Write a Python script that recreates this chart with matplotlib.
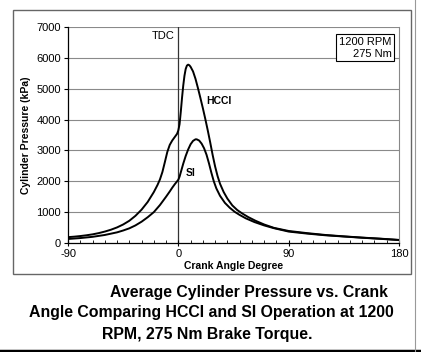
import matplotlib
matplotlib.use("Agg")
import matplotlib.pyplot as plt
from matplotlib.patches import Rectangle
from matplotlib.lines import Line2D

plt.rcParams['font.family'] = ['Liberation Sans', 'DejaVu Sans']
plt.rcParams['axes.unicode_minus'] = False

# Crank angle (deg) and pressure (kPa)
hcci_angle = [-90, -85, -80, -75, -70, -65, -60, -55, -50, -45, -40, -35, -30, -25, -20, -17, -15,
              -13, -11, -9, -7, -5, -3, -1, 0, 1, 2, 3, 4, 5, 6, 7, 8, 9, 10, 12, 14, 16, 18, 20,
              22, 24, 26, 28, 30, 32, 34, 37, 40, 44, 48, 52, 57, 63, 70, 78, 90, 105, 120, 135,
              150, 165, 180]
hcci_pres = [190, 205, 225, 250, 280, 320, 370, 430, 505, 600, 720, 880, 1080, 1330, 1650, 1880,
             2060, 2300, 2620, 2950, 3180, 3320, 3430, 3540, 3650, 3850, 4250, 4700, 5100, 5420,
             5640, 5750, 5780, 5760, 5710, 5560, 5320, 5020, 4700, 4370, 4020, 3650, 3260, 2850,
             2480, 2170, 1920, 1650, 1440, 1220, 1070, 960, 840, 720, 600, 490, 390, 320, 260,
             215, 175, 140, 100]

si_angle = [-90, -80, -70, -60, -50, -45, -40, -35, -30, -25, -20, -15, -10, -7, -5, -3, -1, 0, 1,
            2, 4, 6, 8, 10, 12, 14, 15, 17, 19, 21, 23, 25, 27, 29, 31, 34, 38, 42, 46, 50, 55,
            62, 70, 78, 90, 105, 120, 135, 150, 165, 180]
si_pres = [130, 160, 200, 260, 345, 405, 475, 570, 690, 835, 1000, 1230, 1500, 1670, 1790, 1900,
           2000, 2050, 2150, 2290, 2570, 2820, 3030, 3200, 3310, 3360, 3360, 3320, 3220, 3070,
           2860, 2580, 2270, 1990, 1770, 1530, 1300, 1140, 1010, 910, 800, 680, 570, 480, 370,
           305, 250, 210, 170, 135, 95]

x_ticks = [-90, 0, 90, 180]
y_ticks = [0, 1000, 2000, 3000, 4000, 5000, 6000, 7000]

fig = plt.figure(figsize=(4.21, 3.52), dpi=100)
fig.patch.set_facecolor('white')

# outer frame
fig.patches.append(Rectangle((13/421, 1-274/352), 398/421, 264/352, transform=fig.transFigure,
                             fill=False, edgecolor='#666666', linewidth=1.0))
fig.lines.append(Line2D([0, 1], [1.5/352, 1.5/352], transform=fig.transFigure, color='black', linewidth=2.5))
fig.lines.append(Line2D([415/421, 415/421], [0, 1], transform=fig.transFigure, color='#999999', linewidth=0.8))

ax = fig.add_axes([68/421, 1-243/352, 331/421, 216/352])
ax.set_xlim(-90, 180)
ax.set_ylim(0, 7000)

for yv in y_ticks[1:]:
    ax.axhline(yv, color='#8a8a8a', linewidth=0.8, zorder=1)
ax.axvline(0, color='#333333', linewidth=0.9, zorder=1)

ax.plot(hcci_angle, hcci_pres, color='black', linewidth=1.4, zorder=3, solid_joinstyle='round')
ax.plot(si_angle, si_pres, color='black', linewidth=1.4, zorder=3, solid_joinstyle='round')

ax.set_xticks(x_ticks)
ax.set_xticks(range(-90, 181, 10), minor=True)
ax.set_yticks(y_ticks)
ax.tick_params(axis='both', which='major', labelsize=8, length=3, width=0.8, direction='out', pad=2)
ax.tick_params(axis='x', which='minor', length=2.5, width=0.6, direction='in')
ax.tick_params(axis='x', which='major', direction='inout', length=4)

for s in ['left', 'bottom']:
    ax.spines[s].set_color('black')
    ax.spines[s].set_linewidth(0.9)
ax.spines['top'].set_visible(False)
ax.spines['right'].set_color('#888888')
ax.spines['right'].set_linestyle((0, (1, 1)))
ax.spines['right'].set_linewidth(0.8)

ax.set_xlabel('Crank Angle Degree', fontsize=7.5, fontweight='bold', labelpad=2)
ax.set_ylabel('Cylinder Pressure (kPa)', fontsize=7.5, fontweight='bold', labelpad=4)

ax.text(22.4, 4600, 'HCCI', fontsize=7.5, fontweight='bold', va='center', ha='left')
ax.text(6.1, 2270, 'SI', fontsize=7.5, fontweight='bold', va='center', ha='left')
ax.text(-2.9, 6700, 'TDC', fontsize=8, va='center', ha='right')
ax.text(174, 6330, '1200 RPM\n275 Nm', fontsize=8, va='center', ha='right', linespacing=1.25,
        bbox=dict(boxstyle='square,pad=0.25', facecolor='white', edgecolor='black', linewidth=0.8))

cap = dict(fontsize=11.4, fontweight='bold')
fig.text(110/421, 1-292/352, 'Average Cylinder Pressure vs. Crank', ha='left', va='center', **cap)
fig.text(211/421, 1-313/352, 'Angle Comparing HCCI and SI Operation at 1200', ha='center', va='center', **cap)
fig.text(207/421, 1-334/352, 'RPM, 275 Nm Brake Torque.', ha='center', va='center', **cap)

fig.savefig('out.png', dpi=100)
